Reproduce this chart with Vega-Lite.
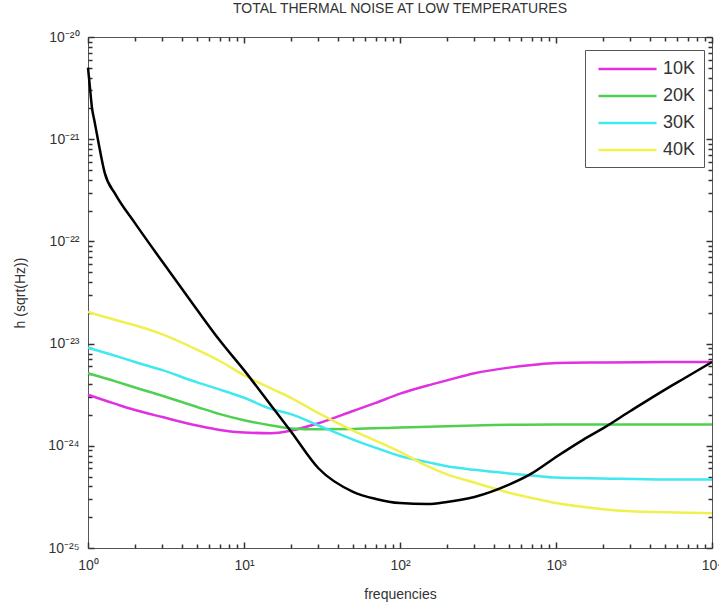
{
  "$schema": "https://vega.github.io/schema/vega-lite/v6.json",
  "width": 624,
  "height": 511,
  "autosize": "none",
  "padding": {"left": 88, "top": 37, "right": 7, "bottom": 59},
  "background": "white",
  "title": {"text": "TOTAL THERMAL NOISE AT LOW TEMPERATURES", "font": "Liberation Sans", "fontSize": 14, "fontWeight": "normal", "color": "#333333", "offset": 14, "anchor": "middle"},
  "config": {
    "view": {"stroke": "#555555", "strokeWidth": 1},
    "axis": {"domain": false, "grid": false, "labelFont": "Liberation Sans", "labelFontSize": 14, "labelColor": "#333333", "titleFont": "Liberation Sans", "titleFontSize": 14, "titleFontWeight": "normal", "titleColor": "#333333", "labelOverlap": false, "labelFlush": false, "labelBound": false}
  },
  "datasets": {
    "temps": [
      {"f": 1, "h": 3.16e-24, "s": "10K"}, {"f": 1.5, "h": 2.57e-24, "s": "10K"}, {"f": 2, "h": 2.24e-24, "s": "10K"}, {"f": 3, "h": 1.91e-24, "s": "10K"}, {"f": 5, "h": 1.58e-24, "s": "10K"}, {"f": 7, "h": 1.43e-24, "s": "10K"}, {"f": 10, "h": 1.35e-24, "s": "10K"}, {"f": 15, "h": 1.33e-24, "s": "10K"}, {"f": 20, "h": 1.41e-24, "s": "10K"}, {"f": 30, "h": 1.66e-24, "s": "10K"}, {"f": 50, "h": 2.19e-24, "s": "10K"}, {"f": 70, "h": 2.63e-24, "s": "10K"}, {"f": 100, "h": 3.24e-24, "s": "10K"}, {"f": 150, "h": 3.89e-24, "s": "10K"}, {"f": 200, "h": 4.37e-24, "s": "10K"}, {"f": 300, "h": 5.13e-24, "s": "10K"}, {"f": 500, "h": 5.82e-24, "s": "10K"}, {"f": 700, "h": 6.17e-24, "s": "10K"}, {"f": 1000, "h": 6.46e-24, "s": "10K"}, {"f": 2000, "h": 6.53e-24, "s": "10K"}, {"f": 5000, "h": 6.59e-24, "s": "10K"}, {"f": 10000, "h": 6.61e-24, "s": "10K"},
      {"f": 1, "h": 5.13e-24, "s": "20K"}, {"f": 1.5, "h": 4.27e-24, "s": "20K"}, {"f": 2, "h": 3.72e-24, "s": "20K"}, {"f": 3, "h": 3.09e-24, "s": "20K"}, {"f": 5, "h": 2.40e-24, "s": "20K"}, {"f": 7, "h": 2.04e-24, "s": "20K"}, {"f": 10, "h": 1.78e-24, "s": "20K"}, {"f": 15, "h": 1.58e-24, "s": "20K"}, {"f": 20, "h": 1.48e-24, "s": "20K"}, {"f": 30, "h": 1.45e-24, "s": "20K"}, {"f": 50, "h": 1.46e-24, "s": "20K"}, {"f": 100, "h": 1.51e-24, "s": "20K"}, {"f": 300, "h": 1.58e-24, "s": "20K"}, {"f": 1000, "h": 1.62e-24, "s": "20K"}, {"f": 10000, "h": 1.62e-24, "s": "20K"},
      {"f": 1, "h": 9.12e-24, "s": "30K"}, {"f": 1.5, "h": 7.59e-24, "s": "30K"}, {"f": 2, "h": 6.61e-24, "s": "30K"}, {"f": 3, "h": 5.50e-24, "s": "30K"}, {"f": 5, "h": 4.17e-24, "s": "30K"}, {"f": 7, "h": 3.55e-24, "s": "30K"}, {"f": 10, "h": 2.95e-24, "s": "30K"}, {"f": 15, "h": 2.29e-24, "s": "30K"}, {"f": 20, "h": 2.04e-24, "s": "30K"}, {"f": 30, "h": 1.58e-24, "s": "30K"}, {"f": 50, "h": 1.15e-24, "s": "30K"}, {"f": 70, "h": 9.55e-25, "s": "30K"}, {"f": 100, "h": 7.94e-25, "s": "30K"}, {"f": 150, "h": 6.92e-25, "s": "30K"}, {"f": 200, "h": 6.31e-25, "s": "30K"}, {"f": 300, "h": 5.82e-25, "s": "30K"}, {"f": 500, "h": 5.37e-25, "s": "30K"}, {"f": 700, "h": 5.13e-25, "s": "30K"}, {"f": 1000, "h": 4.90e-25, "s": "30K"}, {"f": 2000, "h": 4.79e-25, "s": "30K"}, {"f": 5000, "h": 4.68e-25, "s": "30K"}, {"f": 10000, "h": 4.68e-25, "s": "30K"},
      {"f": 1, "h": 2.04e-23, "s": "40K"}, {"f": 1.5, "h": 1.70e-23, "s": "40K"}, {"f": 2, "h": 1.51e-23, "s": "40K"}, {"f": 3, "h": 1.23e-23, "s": "40K"}, {"f": 5, "h": 8.71e-24, "s": "40K"}, {"f": 7, "h": 6.76e-24, "s": "40K"}, {"f": 10, "h": 4.90e-24, "s": "40K"}, {"f": 15, "h": 3.63e-24, "s": "40K"}, {"f": 20, "h": 2.95e-24, "s": "40K"}, {"f": 30, "h": 2.09e-24, "s": "40K"}, {"f": 50, "h": 1.41e-24, "s": "40K"}, {"f": 70, "h": 1.12e-24, "s": "40K"}, {"f": 100, "h": 8.71e-25, "s": "40K"}, {"f": 150, "h": 6.31e-25, "s": "40K"}, {"f": 200, "h": 5.25e-25, "s": "40K"}, {"f": 300, "h": 4.37e-25, "s": "40K"}, {"f": 500, "h": 3.47e-25, "s": "40K"}, {"f": 700, "h": 3.09e-25, "s": "40K"}, {"f": 1000, "h": 2.75e-25, "s": "40K"}, {"f": 2000, "h": 2.40e-25, "s": "40K"}, {"f": 3000, "h": 2.29e-25, "s": "40K"}, {"f": 5000, "h": 2.24e-25, "s": "40K"}, {"f": 10000, "h": 2.19e-25, "s": "40K"}
    ],
    "total": [
      {"f": 1, "h": 5.01e-21}, {"f": 1.03, "h": 3.16e-21}, {"f": 1.06, "h": 2.04e-21}, {"f": 1.1, "h": 1.51e-21}, {"f": 1.16, "h": 9.77e-22}, {"f": 1.28, "h": 4.68e-22}, {"f": 1.5, "h": 2.88e-22}, {"f": 2, "h": 1.51e-22}, {"f": 3, "h": 6.31e-23}, {"f": 5, "h": 2.14e-23}, {"f": 7, "h": 1.07e-23}, {"f": 10, "h": 5.50e-24}, {"f": 15, "h": 2.45e-24}, {"f": 20, "h": 1.38e-24}, {"f": 30, "h": 6.03e-25}, {"f": 50, "h": 3.55e-25}, {"f": 70, "h": 3.02e-25}, {"f": 100, "h": 2.75e-25}, {"f": 150, "h": 2.69e-25}, {"f": 200, "h": 2.82e-25}, {"f": 300, "h": 3.16e-25}, {"f": 500, "h": 4.17e-25}, {"f": 700, "h": 5.37e-25}, {"f": 1000, "h": 7.76e-25}, {"f": 1500, "h": 1.15e-24}, {"f": 2000, "h": 1.48e-24}, {"f": 3000, "h": 2.19e-24}, {"f": 5000, "h": 3.55e-24}, {"f": 7000, "h": 4.79e-24}, {"f": 10000, "h": 6.61e-24}
    ]
  },
  "layer": [
    {
      "data": {"name": "temps"},
      "mark": {"type": "line", "strokeWidth": 2.5, "interpolate": "monotone"},
      "encoding": {
        "x": {"field": "f", "type": "quantitative", "scale": {"type": "log", "domain": [1, 10000], "nice": false},
          "axis": {"orient": "bottom", "title": "frequencies", "titlePadding": 15,
            "values": [1, 10, 100, 1000, 10000],
            "labelExpr": "'10' + ['⁰','¹','²','³','⁴'][round(log(datum.value)/LN10)]",
            "tickColor": "#333333", "tickWidth": 1.5, "tickSize": -6, "labelPadding": 16}},
        "y": {"field": "h", "type": "quantitative", "scale": {"type": "log", "domain": [1e-25, 1e-20], "nice": false},
          "axis": {"orient": "left", "title": "h (sqrt(Hz))", "titlePadding": 20,
            "values": [1e-25, 1e-24, 1e-23, 1e-22, 1e-21, 1e-20],
            "labelExpr": "'10⁻²' + ['⁰','¹','²','³','⁴','⁵'][-round(log(datum.value)/LN10) - 20]",
            "tickColor": "#333333", "tickWidth": 1.5, "tickSize": -6, "labelPadding": 15}},
        "color": {"field": "s", "type": "nominal",
          "scale": {"domain": ["10K", "20K", "30K", "40K"], "range": ["#e030e0", "#50d050", "#40e8f0", "#f0f050"]},
          "legend": {"orient": "none", "legendX": 497, "legendY": 13, "title": null, "symbolType": "M-0.58,0H5.53", "symbolSize": 361, "symbolStrokeWidth": 2.5, "labelFont": "Liberation Sans", "labelFontSize": 18, "labelColor": "#333333", "labelOffset": 48, "strokeColor": "#555555", "fillColor": "white", "padding": 8, "rowPadding": 7}}
      }
    },
    {
      "data": {"name": "total"},
      "mark": {"type": "line", "strokeWidth": 2.5, "color": "black", "interpolate": "monotone"},
      "encoding": {
        "x": {"field": "f", "type": "quantitative",
          "axis": {"orient": "bottom", "title": null, "labels": false, "tickColor": "#333333", "tickWidth": 1.5, "tickSize": -4,
            "values": [2,3,4,5,6,7,8,9,20,30,40,50,60,70,80,90,200,300,400,500,600,700,800,900,2000,3000,4000,5000,6000,7000,8000,9000]}},
        "y": {"field": "h", "type": "quantitative",
          "axis": {"orient": "left", "title": null, "labels": false, "tickColor": "#333333", "tickWidth": 1.5, "tickSize": -4,
            "values": [2e-25,3e-25,4e-25,5e-25,6e-25,7e-25,8e-25,9e-25,2e-24,3e-24,4e-24,5e-24,6e-24,7e-24,8e-24,9e-24,2e-23,3e-23,4e-23,5e-23,6e-23,7e-23,8e-23,9e-23,2e-22,3e-22,4e-22,5e-22,6e-22,7e-22,8e-22,9e-22,2e-21,3e-21,4e-21,5e-21,6e-21,7e-21,8e-21,9e-21]}}
      }
    },
    {
      "data": {"name": "total"},
      "mark": {"type": "line", "opacity": 0},
      "encoding": {
        "x": {"field": "f", "type": "quantitative",
          "axis": {"orient": "top", "title": null, "labels": false, "tickColor": "#333333", "tickWidth": 1.5, "tickSize": -6, "values": [1, 10, 100, 1000, 10000]}},
        "y": {"field": "h", "type": "quantitative",
          "axis": {"orient": "right", "title": null, "labels": false, "tickColor": "#333333", "tickWidth": 1.5, "tickSize": -6, "values": [1e-25, 1e-24, 1e-23, 1e-22, 1e-21, 1e-20]}}
      }
    },
    {
      "data": {"name": "total"},
      "mark": {"type": "line", "opacity": 0},
      "encoding": {
        "x": {"field": "f", "type": "quantitative",
          "axis": {"orient": "top", "title": null, "labels": false, "tickColor": "#333333", "tickWidth": 1.5, "tickSize": -4,
            "values": [2,3,4,5,6,7,8,9,20,30,40,50,60,70,80,90,200,300,400,500,600,700,800,900,2000,3000,4000,5000,6000,7000,8000,9000]}},
        "y": {"field": "h", "type": "quantitative",
          "axis": {"orient": "right", "title": null, "labels": false, "tickColor": "#333333", "tickWidth": 1.5, "tickSize": -4,
            "values": [2e-25,3e-25,4e-25,5e-25,6e-25,7e-25,8e-25,9e-25,2e-24,3e-24,4e-24,5e-24,6e-24,7e-24,8e-24,9e-24,2e-23,3e-23,4e-23,5e-23,6e-23,7e-23,8e-23,9e-23,2e-22,3e-22,4e-22,5e-22,6e-22,7e-22,8e-22,9e-22,2e-21,3e-21,4e-21,5e-21,6e-21,7e-21,8e-21,9e-21]}}
      }
    }
  ],
  "resolve": {"axis": {"x": "independent", "y": "independent"}}
}
